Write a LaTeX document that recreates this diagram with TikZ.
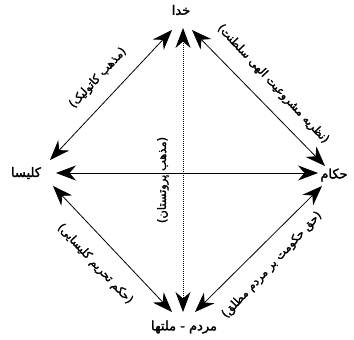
\documentclass[tikz,border=0pt]{standalone}
\usepackage{fontspec}
\newfontfamily\arabicfont[Script=Arabic, FakeBold=2]{DejaVu Sans}
\TeXXeTstate=1
\usetikzlibrary{arrows.meta}
\begin{document}
\begin{tikzpicture}[x=1pt, y=-1pt,
    vertex/.style={font=\arabicfont\fontsize{13}{15}\selectfont, inner sep=1pt},
    edgelabel/.style={font=\arabicfont\fontsize{11.5}{13}\selectfont, inner sep=1pt},
    biarrow/.style={{Stealth[length=20pt,width=15pt]}-{Stealth[length=20pt,width=15pt]}, line width=0.8pt}]
    \useasboundingbox (0,0) rectangle (354,340);
    % Nodes
    \node (god) at (181,10) [vertex] {\beginR خدا\endR};
    \node (church) at (26,173) [vertex] {\beginR کلیسا\endR};
    \node (rulers) at (334,175) [vertex] {\beginR حکام\endR};
    \node (people) at (184,327) [vertex] {\beginR مردم - ملتها\endR};

    % Edges
    \draw[biarrow] ([shift={(-9,20)}]god.center) -- ([shift={(24,-13)}]church.center);
    \draw[biarrow] ([shift={(11,20)}]god.center) -- ([shift={(-9,-9)}]rulers.center);
    \draw[biarrow] ([shift={(30,0)}]church.center) -- ([shift={(-16,-2)}]rulers.center);
    \draw[biarrow, dash pattern=on 1pt off 1pt] ([shift={(2,18)}]god.center) -- ([shift={(-1,-15)}]people.center);
    \draw[biarrow] ([shift={(27,13)}]church.center) -- ([shift={(-12,-15)}]people.center);
    \draw[biarrow] ([shift={(-12,11)}]rulers.center) -- ([shift={(11,-15)}]people.center);

    % Labels
    \node (catholic) at (98,78) [edgelabel, rotate=47] {\beginR(مذهب کاتولیک)\endR};
    \node (divine) at (273,84) [edgelabel, rotate=-47] {\beginR(نظریه مشروعیت الهی سلطنت)\endR};
    \node (papal) at (95,264) [edgelabel, rotate=-47] {\beginR(حکم تحریم کلیسایی)\endR};
    \node (sovereign) at (272,265) [edgelabel, rotate=47] {\beginR(حق حکومت بر مردم مطلق)\endR};
    \node (protestant) at (163,180) [edgelabel, rotate=90] {\beginR(مذهب پروتستان)\endR};
\end{tikzpicture}
\end{document}
